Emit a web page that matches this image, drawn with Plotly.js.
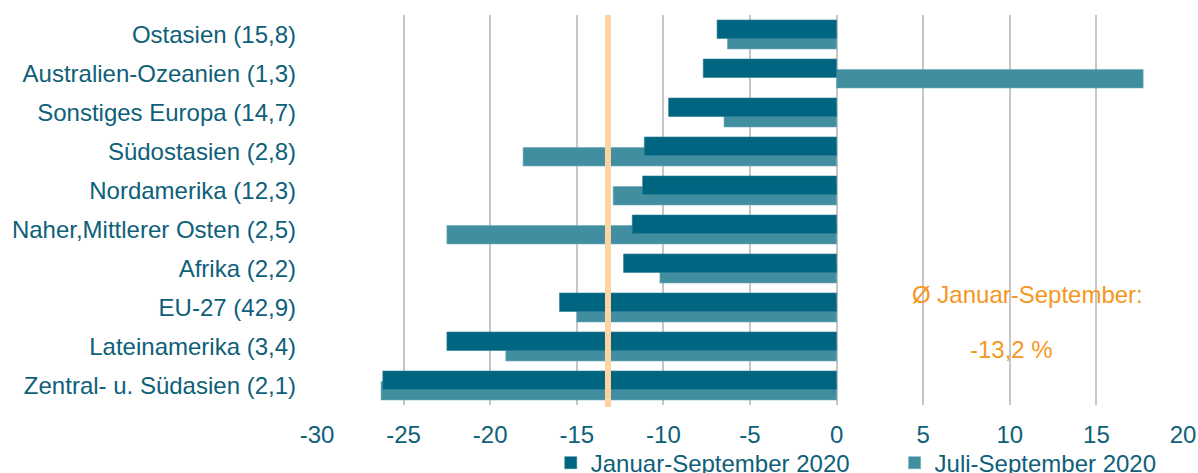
<!DOCTYPE html>
<html>
<head>
<meta charset="utf-8">
<script src="https://cdn.plot.ly/plotly-3.0.1.min.js"></script>
<style>html,body{margin:0;padding:0;background:#fff;}#chart{width:1198px;height:473px;}</style>
</head>
<body>
<div id="chart"></div>
<script>
const categories = [
  "Ostasien (15,8)",
  "Australien-Ozeanien (1,3)",
  "Sonstiges Europa (14,7)",
  "Südostasien (2,8)",
  "Nordamerika (12,3)",
  "Naher,Mittlerer Osten (2,5)",
  "Afrika (2,2)",
  "EU-27 (42,9)",
  "Lateinamerika (3,4)",
  "Zentral- u. Südasien (2,1)"
];
const janSep = [-6.9, -7.7, -9.7, -11.1, -11.2, -11.8, -12.3, -16.0, -22.5, -26.2];
const julSep = [-6.3, 17.7, -6.5, -18.1, -12.9, -22.5, -10.2, -15.0, -19.1, -26.3];
const average = -13.2;
const seriesNames = ["Januar-September 2020", "Juli-September 2020"];
const xTicks = [-30, -25, -20, -15, -10, -5, 0, 5, 10, 15, 20];

const textColor = "#0e6079";
const darkColor = "#006580";
const lightColor = "#428ea1";
const orange = "#f5961e";
const font = "Liberation Sans, Arial, sans-serif";
const pad = "\u00a0\u00a0\u00a0\u00a0\u00a0\u00a0";

const traces = [
  {
    type: "bar", orientation: "h", name: seriesNames[1],
    y: categories, x: julSep,
    width: 0.474, offset: -0.103,
    marker: {color: lightColor, line: {color: "#6aa9b8", width: 0.6}},
    hoverinfo: "x+name", legendrank: 2
  },
  {
    type: "bar", orientation: "h", name: seriesNames[0] + pad,
    y: categories, x: janSep,
    width: 0.474, offset: -0.372,
    marker: {color: darkColor, line: {color: "#2f7d95", width: 0.6}},
    hoverinfo: "x+name", legendrank: 1
  }
];

const layout = {
  width: 1198, height: 473,
  margin: {l: 317, r: 15, t: 15, b: 68, autoexpand: false},
  paper_bgcolor: "#fff", plot_bgcolor: "#fff",
  barmode: "overlay",
  font: {family: font, size: 24, color: textColor},
  showlegend: true,
  legend: {
    orientation: "h", x: 0.6227, xanchor: "center", y: -0.149, yanchor: "middle",
    font: {family: font, size: 24, color: textColor},
    traceorder: "normal", itemwidth: 30, bgcolor: "rgba(0,0,0,0)"
  },
  xaxis: {
    range: [-30, 20], tickvals: xTicks, ticktext: xTicks.map(String),
    showgrid: true, gridcolor: "#c6c6c6", gridwidth: 2,
    zeroline: false, showline: false, ticks: "",
    ticklabelstandoff: 13, automargin: false,
    tickfont: {family: font, size: 24, color: textColor},
    fixedrange: true
  },
  yaxis: {
    type: "category", categoryarray: categories, categoryorder: "array",
    range: [9.5, -0.5],
    showgrid: false, zeroline: false, showline: false, ticks: "",
    ticklabelstandoff: 20, automargin: false,
    tickfont: {family: font, size: 24, color: textColor},
    fixedrange: true
  },
  shapes: [
    {type: "line", xref: "x", yref: "paper", x0: average, x1: average, y0: -0.005, y1: 1,
     line: {color: "#fdd3a2", width: 6}, layer: "above"}
  ],
  annotations: [
    {xref: "x", yref: "paper", x: 11, y: (405 - 294) / 390, text: "Ø Januar-September:",
     showarrow: false, xanchor: "center", yanchor: "middle",
     font: {family: font, size: 24, color: orange}},
    {xref: "x", yref: "paper", x: 10.1, y: (405 - 349) / 390, text: "-13,2 %",
     showarrow: false, xanchor: "center", yanchor: "middle",
     font: {family: font, size: 24, color: orange}}
  ]
};

Plotly.newPlot("chart", traces, layout, {displayModeBar: false, staticPlot: true});
</script>
</body>
</html>
